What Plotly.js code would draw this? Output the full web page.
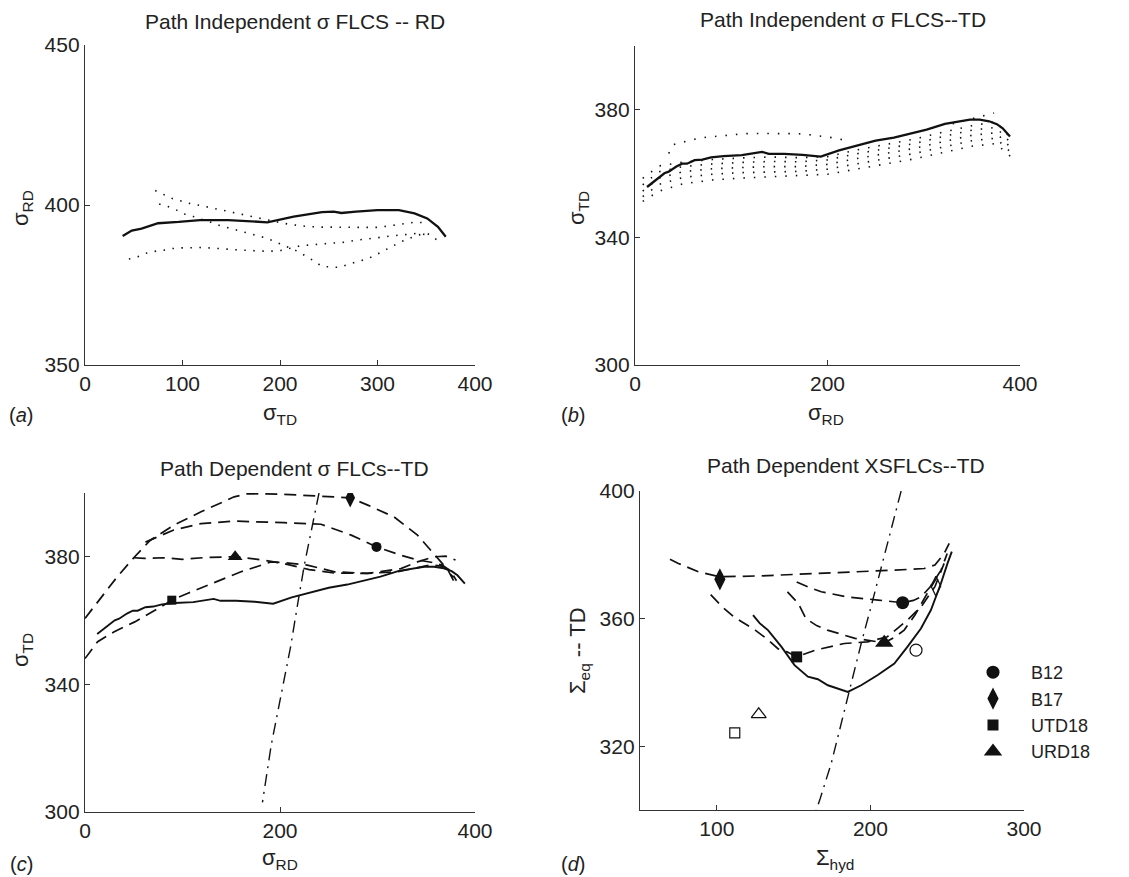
<!DOCTYPE html>
<html>
<head>
<meta charset="utf-8">
<script src="https://cdn.plot.ly/plotly-3.0.1.min.js"></script>
<style>html,body{margin:0;padding:0;background:#fff;}#chart{width:1129px;height:877px;}</style>
</head>
<body>
<div id="chart"></div>
<script>
// ---------- Panel (a): Path independent sigma FLCS -- RD ----------
var aSolidX = [38.6, 48, 58, 75, 96, 118, 147, 169, 187, 214, 243, 255, 263, 278, 300, 322, 338, 351, 362, 370];
var aSolidY = [390.3, 392, 392.6, 394.3, 394.7, 395.3, 395.3, 394.8, 394.6, 396.4, 397.8, 397.9, 397.5, 397.9, 398.4, 398.4, 397.4, 395.8, 393.2, 390.1];
var aDot1X = [72, 81, 89, 98, 107, 117, 126, 135, 144, 153, 162, 172, 181, 190, 200, 209, 218, 227, 240, 255, 270, 285, 301, 310, 319, 329, 338, 347];
var aDot1Y = [404.5, 403.3, 402.1, 401.3, 400.5, 399.9, 399.4, 398.9, 398.2, 397.6, 397.0, 396.4, 395.6, 395.1, 394.5, 394.0, 393.6, 393.3, 393.1, 393.0, 393.0, 393.0, 393.0, 393.4, 393.7, 394.3, 394.6, 394.5];
var aDot2X = [76, 85, 94, 102, 111, 120, 129, 138, 147, 156, 165, 174, 183, 192, 201, 210, 219, 226, 235, 243, 252, 261, 270, 279, 289, 297, 306, 315, 324, 333, 341, 351, 357, 365];
var aDot2Y = [400.3, 399.5, 398.4, 397.2, 396.4, 395.6, 394.6, 393.6, 392.9, 392.2, 391.5, 390.8, 389.9, 388.9, 387.8, 386.5, 385.4, 384.1, 382.5, 380.8, 380.7, 380.5, 381.5, 382.3, 383.1, 384.2, 385.6, 387.2, 388.5, 389.6, 390.6, 391.1, 390.1, 388.0];
var aDot3X = [45, 54, 62, 71, 81, 90, 99, 108, 118, 127, 136, 146, 155, 164, 173, 183, 192, 201, 211, 220, 230, 239, 248, 258, 267, 276, 285, 294, 303, 313, 322, 331, 340, 349];
var aDot3Y = [383.1, 383.8, 384.9, 385.5, 385.9, 386.4, 386.6, 386.7, 386.7, 386.6, 386.5, 386.2, 386.0, 385.8, 385.7, 385.6, 385.6, 385.8, 386.5, 387.2, 387.5, 387.7, 388.0, 388.2, 388.4, 388.9, 389.3, 389.5, 389.9, 390.3, 390.6, 390.9, 391.1, 390.8];

// ---------- Panel (b) and (c): sigma_TD solid FLC ----------
var tdSolidX = [12.5, 21, 30.5, 35, 43, 49, 54, 62, 70, 79, 92, 111, 123, 132, 139, 155, 174, 193, 212, 231, 250, 269, 288, 303, 322, 335, 348, 358, 368, 376, 382, 389.6];
var tdSolidY = [355.8, 357.9, 360.1, 360.6, 362.2, 363.1, 363.1, 364.2, 364.4, 365.1, 365.5, 365.8, 366.3, 366.8, 366.2, 366.2, 365.9, 365.3, 367.3, 368.8, 370.3, 371.3, 372.8, 373.8, 375.6, 376.2, 376.9, 376.9, 376.4, 375.5, 374.2, 371.6];

// Panel (b) dotted path-independent curves
var bDot1X = [35, 40, 49, 59, 68, 78, 87, 95, 105, 114, 124, 133, 142, 151, 160, 169, 178, 188, 197, 206, 215, 224];
var bDot1Y = [366.3, 369.1, 369.8, 370.5, 371.2, 371.5, 371.8, 372.1, 372.3, 372.5, 372.6, 372.6, 372.6, 372.6, 372.6, 372.5, 372.3, 372.0, 371.6, 371.2, 370.6, 370.1];
var bBandX = [8, 25, 50, 80, 110, 140, 170, 200, 230, 260, 290, 320, 350, 375, 390];
var bDot2Y = [351.3, 354.5, 356.8, 358.0, 358.6, 359.0, 359.2, 359.8, 361.4, 363.0, 364.6, 366.6, 368.6, 369.4, 365.4];
var bDot3Y = [352.8, 356.6, 358.8, 359.8, 360.3, 360.6, 360.7, 361.4, 363.1, 364.7, 366.3, 368.3, 370.3, 371.1, 366.8];
var bDot4Y = [354.5, 358.6, 360.6, 361.5, 361.9, 362.2, 362.2, 362.9, 364.7, 366.3, 367.9, 370.0, 372.0, 372.8, 368.3];
var bDot5Y = [356.5, 360.6, 362.2, 363.0, 363.5, 363.8, 363.7, 364.3, 366.2, 367.8, 369.4, 371.6, 373.6, 374.5, 369.8];
var bDot6Y = [358.5, 362.4, 363.6, 364.4, 364.9, 365.2, 365.0, 365.3, 367.4, 369.1, 370.8, 373.0, 375.0, 376.3, 371.2];
var bDot7X = [330, 345, 360, 373];
var bDot7Y = [375.6, 376.8, 377.9, 379.0];

// ---------- Panel (c): path dependent sigma FLCs -- TD ----------
var cB17X = [0, 16, 33, 50, 67, 91, 119, 153, 167, 204, 238, 272, 290, 317, 341, 355, 365, 372, 378];
var cB17Y = [360.7, 367, 373.7, 379.7, 385.2, 389.9, 394.1, 398.8, 399.8, 399.6, 399.1, 398.5, 396.2, 392.5, 386.8, 382.1, 378.4, 376, 372.5];
var cB12X = [62, 75, 91, 119, 153, 204, 242, 273, 299, 324, 341, 355, 366, 375, 381];
var cB12Y = [384.6, 386.2, 388.4, 390.4, 391.2, 390.7, 390.2, 386.8, 383.1, 380.5, 379.0, 378.3, 377.4, 375.6, 372.5];
var cUTDX = [0, 13, 30, 51, 75, 89, 105, 136, 160, 191, 204, 228, 256, 290, 324, 341, 358, 370, 380];
var cUTDY = [348.1, 353.4, 356.5, 359.6, 363.8, 366.4, 368.5, 372.2, 375.3, 378.4, 378.2, 377.4, 375.3, 374.8, 376.3, 378.4, 380, 380.2, 379];
var cURDX = [50, 61, 80, 100, 125, 154, 180, 205, 230, 256, 290, 320, 340, 355, 368, 378];
var cURDY = [379.7, 379.5, 379.7, 379.2, 379.8, 380, 379.1, 377.8, 376, 374.9, 374.8, 375.3, 376.5, 377.5, 377, 373.5];
var cDDX = [240, 233, 225, 218, 211, 201, 191, 182];
var cDDY = [400, 390, 377.5, 365, 352, 336.5, 321, 303];
var cMarkX = {B12: 299, B17: 272, UTD18: 89, URD18: 154};
var cMarkY = {B12: 383.1, B17: 398.5, UTD18: 366.4, URD18: 380};

// ---------- Panel (d): path dependent XSFLCs -- TD ----------
var dSolidX = [123.6, 128, 133.3, 142, 150.6, 159.3, 165.8, 172.3, 185.3, 194, 204.8, 215.6, 224.2, 232.9, 239.4, 245.9, 250.2, 253];
var dSolidY = [361.1, 358.5, 356.4, 351.2, 345.4, 341.8, 341, 339.1, 337, 339.1, 342.3, 345.9, 351.2, 356.9, 362.7, 371, 377.3, 381];
var dB17X = [69.5, 75, 88, 102, 129, 172, 216, 235, 242, 248, 251.3];
var dB17Y = [378.6, 377.3, 374.7, 373.1, 373.4, 374.2, 375.2, 375.7, 376.8, 380.4, 383.6];
var dUTDX = [96, 104, 111, 118, 125, 133, 140, 146, 152, 164, 183, 198, 211, 224, 233, 242, 248];
var dUTDY = [367.5, 363.5, 360.6, 358.5, 356.4, 353.5, 350.5, 349.5, 348, 350.1, 352.2, 352.7, 354.3, 359.5, 363.7, 370, 377.3];
var dB12X = [152, 160, 168, 185, 205, 221, 228, 233, 239, 246, 250];
var dB12Y = [371.5, 369.8, 368.4, 366.8, 365.8, 365, 365.7, 366.8, 370, 375.2, 380.4];
var dURDX = [146, 150, 153, 158, 165, 172, 190, 209, 216, 222, 229, 237, 244];
var dURDY = [368.4, 366.5, 364.8, 360, 357.8, 356.4, 353.8, 352.4, 354.2, 356.4, 361.1, 367.9, 373.5];
var dDDX = [220, 213.4, 207, 200.4, 194, 187.4, 181, 174.5, 167, 164.7];
var dDDY = [400, 387.8, 375.2, 363.7, 352.2, 339.7, 327.1, 314.6, 303.1, 300];
var dMarkX = {B12: 221, B17: 102, UTD18: 152, URD18: 209};
var dMarkY = {B12: 365, B17: 372.3, UTD18: 348, URD18: 352.4};
var dOpenX = {B12: 229.7, B17: 242.6, UTD18: 111.7, URD18: 127.3};
var dOpenY = {B12: 350.1, B17: 370.2, UTD18: 324.2, URD18: 330};

var seriesNames = ['B12', 'B17', 'UTD18', 'URD18'];
var symbols = {B12: 'circle', B17: 'diamond-tall', UTD18: 'square', URD18: 'triangle-up'};
var openSymbols = {B12: 'circle-open', B17: 'diamond-tall-open', UTD18: 'square-open', URD18: 'triangle-up-open'};
var cSizes = {B12: 10, B17: 14, UTD18: 9, URD18: 13};
var dSizes = {B12: 13, B17: 16, UTD18: 11, URD18: 16};
var openSizes = {B12: 12, B17: 14, UTD18: 10, URD18: 13};

// ---------- styling ----------
var INK = '#111';
var FONT = 'Liberation Sans, Arial, Helvetica, sans-serif';
var DOT = '1.5px,7.5px';
var DOTB = '1.5px,9px';
var DASH = '12px,7px';
var DASHDOT = '12px,6px,2px,6px';

function line(x, y, xa, ya, dash, w) {
  return {x: x, y: y, xaxis: xa, yaxis: ya, type: 'scatter', mode: 'lines',
    line: {color: INK, width: w, dash: dash}, showlegend: false, hoverinfo: 'skip'};
}
function mark(x, y, xa, ya, sym, size, name, legend) {
  return {x: [x], y: [y], xaxis: xa, yaxis: ya, type: 'scatter', mode: 'markers', name: name,
    marker: {color: INK, symbol: sym, size: size, line: {color: INK, width: sym.indexOf('open') >= 0 ? 1.2 : 0}},
    showlegend: !!legend, hoverinfo: 'skip'};
}

var traces = [];
// (a)
traces.push(line(aDot1X, aDot1Y, 'x', 'y', DOT, 1.6));
traces.push(line(aDot2X, aDot2Y, 'x', 'y', DOT, 1.6));
traces.push(line(aDot3X, aDot3Y, 'x', 'y', DOT, 1.6));
traces.push(line(aSolidX, aSolidY, 'x', 'y', 'solid', 2.3));
// (b)
traces.push(line(bDot1X, bDot1Y, 'x2', 'y2', DOTB, 1.6));
[bDot2Y, bDot3Y, bDot4Y, bDot5Y, bDot6Y].forEach(function (yy) {
  traces.push(line(bBandX, yy, 'x2', 'y2', DOTB, 1.6));
});
traces.push(line(bDot7X, bDot7Y, 'x2', 'y2', DOTB, 1.6));
traces.push(line(tdSolidX, tdSolidY, 'x2', 'y2', 'solid', 2.3));
// (c)
traces.push(line(tdSolidX, tdSolidY, 'x3', 'y3', 'solid', 1.9));
traces.push(line(cB17X, cB17Y, 'x3', 'y3', DASH, 1.7));
traces.push(line(cB12X, cB12Y, 'x3', 'y3', DASH, 1.7));
traces.push(line(cUTDX, cUTDY, 'x3', 'y3', DASH, 1.7));
traces.push(line(cURDX, cURDY, 'x3', 'y3', DASH, 1.7));
traces.push(line(cDDX, cDDY, 'x3', 'y3', DASHDOT, 1.4));
seriesNames.forEach(function (s) {
  traces.push(mark(cMarkX[s], cMarkY[s], 'x3', 'y3', symbols[s], cSizes[s], s, false));
});
// (d)
traces.push(line(dSolidX, dSolidY, 'x4', 'y4', 'solid', 1.9));
traces.push(line(dB17X, dB17Y, 'x4', 'y4', DASH, 1.7));
traces.push(line(dUTDX, dUTDY, 'x4', 'y4', DASH, 1.7));
traces.push(line(dB12X, dB12Y, 'x4', 'y4', DASH, 1.7));
traces.push(line(dURDX, dURDY, 'x4', 'y4', DASH, 1.7));
traces.push(line(dDDX, dDDY, 'x4', 'y4', DASHDOT, 1.4));
seriesNames.forEach(function (s) {
  traces.push(mark(dOpenX[s], dOpenY[s], 'x4', 'y4', openSymbols[s], openSizes[s], s + ' (open)', false));
});
seriesNames.forEach(function (s) {
  traces.push(mark(dMarkX[s], dMarkY[s], 'x4', 'y4', symbols[s], dSizes[s], s, true));
});

var W = 1129, H = 877;
function px(v) { return v / W; }
function py(v) { return 1 - v / H; }

function axis(domain, range, tickvals, anchor) {
  return {domain: domain, range: range, tickvals: tickvals, anchor: anchor,
    ticks: 'inside', ticklen: 5, tickwidth: 1, tickcolor: '#333',
    showline: true, linecolor: '#333', linewidth: 1.2, mirror: false,
    showgrid: false, zeroline: false, fixedrange: true,
    tickfont: {family: FONT, size: 21, color: '#222'}};
}

var layout = {
  width: W, height: H,
  margin: {l: 0, r: 0, t: 0, b: 0},
  paper_bgcolor: '#fff', plot_bgcolor: 'rgba(0,0,0,0)',
  font: {family: FONT, color: '#222'},
  xaxis: axis([px(85), px(475)], [0, 400], [0, 100, 200, 300, 400], 'y'),
  yaxis: axis([py(365), py(45)], [350, 450], [350, 400, 450], 'x'),
  xaxis2: axis([px(635), px(1020)], [0, 400], [0, 200, 400], 'y2'),
  yaxis2: axis([py(365), py(46)], [300, 400], [300, 340, 380], 'x2'),
  xaxis3: axis([px(85), px(475)], [0, 400], [0, 200, 400], 'y3'),
  yaxis3: axis([py(812), py(493)], [300, 400], [300, 340, 380], 'x3'),
  xaxis4: axis([px(640), px(1024)], [50, 300], [100, 200, 300], 'y4'),
  yaxis4: axis([py(810), py(491)], [300, 400], [320, 360, 400], 'x4'),
  showlegend: true,
  legend: {x: px(955), y: py(654), xanchor: 'left', yanchor: 'top',
    bgcolor: 'rgba(0,0,0,0)', borderwidth: 0, font: {family: FONT, size: 18, color: '#222'},
    itemwidth: 66, traceorder: 'normal'},
  annotations: []
};

function ann(text, x, y, size, extra) {
  var a = {text: text, x: px(x), y: py(y), xref: 'paper', yref: 'paper', showarrow: false,
    xanchor: 'center', yanchor: 'middle', font: {family: FONT, size: size, color: '#222'}};
  for (var k in extra) a[k] = extra[k];
  layout.annotations.push(a);
}
// titles
ann('Path Independent σ FLCS -- RD', 295, 21, 21);
ann('Path Independent σ FLCS--TD', 843, 20, 21);
ann('Path Dependent σ FLCs--TD', 294, 468, 21);
ann('Path Dependent XSFLCs--TD', 846, 465, 21);
// axis titles
ann('σ<sub>TD</sub>', 280, 414, 22);
ann('σ<sub>RD</sub>', 22, 208, 22, {textangle: -90});
ann('σ<sub>RD</sub>', 826, 414, 22);
ann('σ<sub>TD</sub>', 578, 208, 22, {textangle: -90});
ann('σ<sub>RD</sub>', 280, 859, 22);
ann('σ<sub>TD</sub>', 22, 650, 22, {textangle: -90});
ann('Σ<sub>hyd</sub>', 835, 859, 22);
ann('Σ<sub>eq</sub> -- TD', 579, 651, 22, {textangle: -90});
// panel labels
ann('(<i>a</i>)', 21, 415, 20);
ann('(<i>b</i>)', 573, 415, 20);
ann('(<i>c</i>)', 21, 864, 20);
ann('(<i>d</i>)', 573, 864, 20);

Plotly.newPlot('chart', traces, layout, {staticPlot: true, displayModeBar: false});
</script>
</body>
</html>
